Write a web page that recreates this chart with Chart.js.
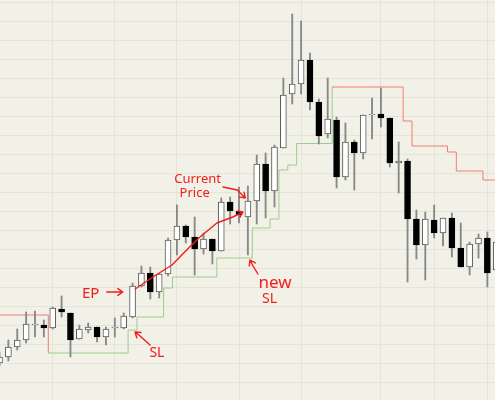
<!DOCTYPE html>
<html>
<head>
<meta charset="utf-8">
<script src="https://cdn.jsdelivr.net/npm/chart.js@4.4.1/dist/chart.umd.min.js"></script>
<style>
  html, body { margin: 0; padding: 0; background: #f2f1e7; }
  #wrap { width: 495px; height: 400px; }
  canvas { display: block; background: #f2f1e7; }
</style>
</head>
<body>
<div id="wrap"><canvas id="chart" width="495" height="400"></canvas></div>
<script>
/* candle data, one entry per bar */
const opens  = [37, 43, 53, 60, 75, 75, 72, 91, 87, 61, 70, 73, 63, 72, 72, 83, 114, 127, 108, 126,
                160, 174, 163, 151, 161, 149, 198, 189, 183, 199, 236, 209, 252, 306, 316, 340, 298, 266, 280, 223,
                258, 247, 285, 286, 282, 237, 239, 181, 155, 180, 167, 182, 152, 133, 156, 162, 130];
const highs  = [48, 60, 71, 88, 89, 80, 93, 104, 87, 75, 77, 73, 73, 82, 87, 117, 134, 133, 126, 162,
                195, 175, 183, 167, 161, 202, 203, 213, 214, 245, 247, 255, 322, 386, 379, 347, 301, 322, 283, 277,
                260, 285, 302, 312, 282, 258, 241, 190, 188, 195, 182, 187, 177, 158, 166, 168, 165];
const lows   = [34, 39, 50, 57, 63, 63, 71, 83, 43, 61, 67, 58, 55, 63, 71, 82, 113, 101, 102, 124,
                145, 157, 125, 146, 136, 149, 176, 177, 145, 176, 182, 193, 252, 296, 306, 290, 256, 262, 212, 220,
                210, 241, 261, 273, 233, 207, 118, 141, 120, 162, 154, 143, 133, 125, 142, 113, 120];
const closes = [43, 53, 60, 76, 76, 72, 92, 88, 60, 71, 73, 63, 71, 73, 84, 114, 127, 108, 126, 160,
                174, 163, 151, 161, 149, 198, 189, 185, 199, 236, 209, 253, 305, 316, 340, 298, 264, 281, 223, 258,
                247, 285, 286, 282, 237, 239, 181, 155, 181, 167, 182, 152, 133, 156, 162, 127, 158];

/* stop loss level under each bar */
const stops = [85, 85, 85, 85, 85, 85, 47, 47, 47, 47, 47, 47, 47, 47, 47, 70, 83, 83, 83, 112,
               123, 123, 123, 123, 123, 142, 142, 142, 142, 172, 172, 181, 230, 235, 256.5, 256.5, 256.5, 256.5, 313, 313,
               313, 313, 313, 313, 313, 313, 279, 254, 254, 254, 254, 248, 229, 229, 229, 220, 220];
const longFrom = 6, longTo = 37;

/* bars where the vertical grid lines fall */
const weekStarts = [6, 13, 20, 27, 34, 43, 49, 55];

/* handwritten notes, placed in (bar, price) units */
const notes = [
  { text: 'EP', i: 9.3, v: 102, size: 15 },
  { text: 'SL', i: 16.9, v: 43, size: 14 },
  { text: 'Current', i: 19.7, v: 217, size: 13 },
  { text: 'Price', i: 20.3, v: 203, size: 13 },
  { text: 'new', i: 29.2, v: 112, size: 17 },
  { text: 'SL', i: 29.6, v: 97, size: 14 }
];
const arrows = [
  [[12.1, 108], [13.9, 108]],
  [[16.97, 55], [15.84, 64], [15.28, 68]],
  [[25.2, 213], [26.8, 210], [27.7, 202]],
  [[15.3, 111], [17.3, 123], [19.45, 135], [21.1, 150], [22.6, 163], [24.5, 177], [26.3, 183], [27.45, 188]],
  [[29.14, 126], [28.58, 134], [28.24, 140]]
];

const red = '#f07c72', green = '#9ccc8c', ink = '#f21c1c';

const notesPlugin = {
  id: 'notes',
  afterDatasetsDraw(chart) {
    const { ctx, scales: { x, y } } = chart;
    const px = p => [x.getPixelForValue(p[0]), y.getPixelForValue(p[1])];
    ctx.save();
    ctx.strokeStyle = ink;
    ctx.fillStyle = ink;
    ctx.lineWidth = 1.4;
    ctx.lineCap = 'round';
    ctx.lineJoin = 'round';
    arrows.forEach(a => {
      const pts = a.map(px);
      ctx.beginPath();
      ctx.moveTo(pts[0][0], pts[0][1]);
      for (let k = 1; k < pts.length; k++) ctx.lineTo(pts[k][0], pts[k][1]);
      const [tx, ty] = pts[pts.length - 1];
      const [sx, sy] = pts[pts.length - 2];
      const ang = Math.atan2(ty - sy, tx - sx);
      const len = 6;
      ctx.moveTo(tx - len * Math.cos(ang - 0.6), ty - len * Math.sin(ang - 0.6));
      ctx.lineTo(tx, ty);
      ctx.lineTo(tx - len * Math.cos(ang + 0.6), ty - len * Math.sin(ang + 0.6));
      ctx.stroke();
    });
    notes.forEach(n => {
      const [nx, ny] = px([n.i, n.v]);
      ctx.font = n.size + 'px "Noto Sans"';
      ctx.textBaseline = 'alphabetic';
      ctx.fillText(n.text, nx, ny);
    });
    ctx.restore();
  }
};

new Chart(document.getElementById('chart'), {
  type: 'bar',
  data: {
    datasets: [
      {
        type: 'line',
        data: stops.map((s, i) => ({ x: i - 0.5, y: s })).concat([{ x: stops.length - 0.5, y: stops[stops.length - 1] }]),
        stepped: true,
        borderWidth: 1,
        pointRadius: 0,
        segment: {
          borderColor: c => (c.p0DataIndex >= longFrom && c.p0DataIndex <= longTo) ? green : red
        },
        order: 4
      },
      {
        data: highs.map((h, i) => ({ x: i, y: [lows[i], h] })),
        backgroundColor: '#888888',
        barThickness: 1.2,
        grouped: false,
        order: 3
      },
      {
        data: opens.map((o, i) => ({ x: i, y: [o, closes[i]] })),
        backgroundColor: opens.map((o, i) => closes[i] >= o ? '#ffffff' : '#000000'),
        borderColor: opens.map((o, i) => closes[i] >= o ? '#5a5a5a' : '#000000'),
        borderWidth: 1,
        borderSkipped: false,
        barThickness: 6,
        grouped: false,
        order: 2
      }
    ]
  },
  options: {
    responsive: false,
    animation: false,
    layout: { padding: 0 },
    plugins: { legend: { display: false }, tooltip: { enabled: false } },
    scales: {
      x: {
        type: 'linear',
        min: 0.056,
        max: 55.86,
        offset: false,
        grid: { offset: false, color: '#e5e4d9', drawTicks: false },
        border: { display: false },
        ticks: { display: false },
        afterBuildTicks: s => { s.ticks = weekStarts.map(v => ({ value: v })); }
      },
      y: {
        min: 0,
        max: 400,
        grid: { color: '#e5e4d9', drawTicks: false },
        border: { display: false },
        ticks: { display: false },
        afterBuildTicks: s => {
          const t = [];
          for (let v = 397.3; v > 0; v -= 19) t.push({ value: v });
          s.ticks = t;
        }
      }
    }
  },
  plugins: [notesPlugin]
});
</script>
</body>
</html>
